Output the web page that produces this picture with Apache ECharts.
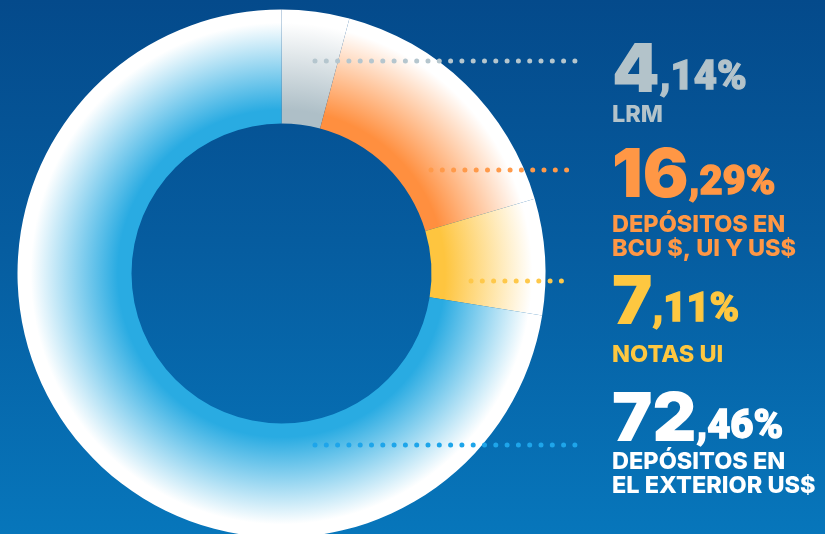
<!DOCTYPE html>
<html>
<head>
<meta charset="utf-8">
<script src="https://cdn.jsdelivr.net/npm/echarts@6/dist/echarts.min.js"></script>
<style>
html,body{margin:0;padding:0;}
#c{width:825px;height:534px;background:linear-gradient(to bottom,#044a8b 0%,#065c9f 45%,#0776bb 100%);}
</style>
</head>
<body>
<div id="c"></div>
<script>
// ---- data ----
const categories = ['LRM', 'DEPÓSITOS EN\nBCU $, UI Y US$', 'NOTAS UI', 'DEPÓSITOS EN\nEL EXTERIOR US$'];
const shares = [4.14, 16.29, 7.11, 72.46];
const colors = ['#aebfc7', '#ff8f3f', '#fec53f', '#29abe2'];
const textColors = ['#b3c3ca', '#ff9745', '#fec740', '#ffffff'];
const dotColors = ['#b5c6ce', '#ff9a4a', '#fec84a', '#1ea5ea'];

// ---- layout ----
const CX = 281.5, CY = 273.5, R_IN = 150, R_OUT = 264;
const LABEL_X = 612;
const NUM_TOP = [54, 159, 286, 403];
const NAME_TOP = [102.5, 212.5, 342.5, 449.5];
const DOT_Y = [61, 170, 281, 445];
const DOT_X0 = [315, 431, 471, 315];
const DOT_X1 = [577, 577, 572, 575];
const FONT = 'Inter';

function grad(c) {
  return {
    type: 'radial', x: CX, y: CY, r: R_OUT, global: true,
    colorStops: [
      {offset: 0, color: c},
      {offset: R_IN / R_OUT, color: c},
      {offset: 0.62, color: c},
      {offset: 0.95, color: '#ffffff'},
      {offset: 1, color: '#ffffff'}
    ]
  };
}

const numRich = {
  big: {fontSize: 68, fontWeight: 900, fontFamily: FONT, lineHeight: 52, verticalAlign: 'bottom', textBorderWidth: 0},
  small: {fontSize: 40, fontWeight: 900, fontFamily: 'Roboto', lineHeight: 34, verticalAlign: 'bottom',
          padding: [0, 0, 7, 0], textBorderWidth: 1.3}
};

const sectorData = categories.map((n, i) => ({
  name: n, value: shares[i], itemStyle: {color: grad(colors[i])}
}));
const numData = categories.map((n, i) => ({
  name: n, value: shares[i],
  label: {color: textColors[i], textBorderColor: textColors[i]},
  labelLine: {lineStyle: {color: dotColors[i]}}
}));
const nameData = categories.map((n, i) => ({
  name: n, value: shares[i], label: {color: textColors[i]}
}));

const base = {
  type: 'pie',
  center: [CX, CY],
  radius: [R_IN, R_OUT],
  startAngle: 90,
  clockwise: true,
  avoidLabelOverlap: false,
  silent: true,
  emphasis: {disabled: true}
};

const chart = echarts.init(document.getElementById('c'), null, {renderer: 'canvas'});
chart.setOption({
  backgroundColor: 'transparent',
  animation: false,
  series: [
    Object.assign({}, base, {
      z: 2,
      label: {show: false},
      labelLine: {show: false},
      data: sectorData
    }),
    Object.assign({}, base, {
      z: 5,
      itemStyle: {color: 'rgba(0,0,0,0)'},
      label: {
        show: true, position: 'outer', alignTo: 'none',
        formatter: function (p) {
          const parts = p.value.toFixed(2).split('.');
          return '{big|' + parts[0] + '}{small|,' + parts[1] + '%}';
        },
        rich: numRich
      },
      labelLine: {show: true, lineStyle: {width: 5, type: [0, 11.3], cap: 'round'}},
      labelLayout: function (params) {
        const i = params.dataIndex;
        const y = DOT_Y[i];
        return {
          x: LABEL_X, y: NUM_TOP[i], align: 'left', verticalAlign: 'top',
          labelLinePoints: [[DOT_X0[i], y], [(DOT_X0[i] + DOT_X1[i]) / 2, y], [DOT_X1[i], y]]
        };
      },
      data: numData
    }),
    Object.assign({}, base, {
      z: 6,
      itemStyle: {color: 'rgba(0,0,0,0)'},
      label: {
        show: true, position: 'outer', alignTo: 'none',
        fontFamily: FONT, fontSize: 23.5, fontWeight: 800, lineHeight: 24,
        formatter: '{b}'
      },
      labelLine: {show: false},
      labelLayout: function (params) {
        const i = params.dataIndex;
        return {x: LABEL_X, y: NAME_TOP[i], align: 'left', verticalAlign: 'top'};
      },
      data: nameData
    })
  ]
});
</script>
</body>
</html>
